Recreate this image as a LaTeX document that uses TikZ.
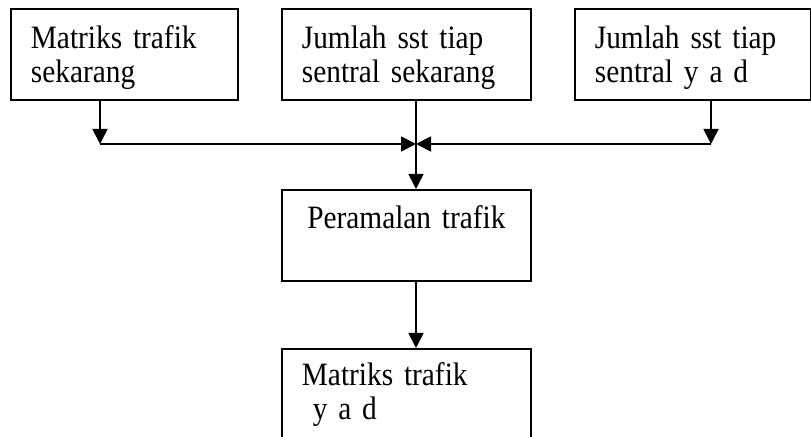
\documentclass[tikz,border=0pt]{standalone}
\usepackage{fontspec}
\setmainfont{Liberation Serif}[FakeStretch=0.9, WordSpace=0.9]
\usetikzlibrary{arrows.meta, positioning}

\begin{document}
\begin{tikzpicture}[
    x=0.5pt, y=-0.5pt,
    kotak/.style={draw, line width=0.9pt, anchor=north west, align=left, inner xsep=10pt, inner ysep=0pt, text height=20pt, text depth=25.5pt, font=\fontsize{16.3}{17}\selectfont},
    arrow/.style={-{Triangle[length=7.5pt, width=7.5pt]}, line width=0.9pt}
]
\useasboundingbox (0,0) rectangle (811,437);

% Input boxes
\node[kotak, text width=93.5pt] (matriks) at (10,8) {Matriks trafik\\ sekarang};
\node[kotak, text width=104.5pt] (jumlah) at (281,8) {Jumlah sst tiap\\ sentral sekarang};
\node[kotak, text width=98pt] (jumlahyad) at (574,8) {Jumlah sst tiap\\ sentral y a d};

% Process and output
\node[kotak, text width=104.5pt, align=center, text height=19.5pt, text depth=26pt] (peramalan) at (281,189) {Peramalan trafik};
\node[kotak, text width=104.5pt, text height=18.5pt, text depth=40pt] (matriksyad) at (281,348) {Matriks trafik\\ \ y a d};

% Junction points
\coordinate (kiri) at (100,144);
\coordinate (kanan) at (711,144);
\coordinate (tengah) at (416,144);

% Arrows
\draw[arrow] (matriks.south -| kiri) -- (kiri);
\draw[arrow] (jumlahyad.south -| kanan) -- (kanan);
\draw[arrow] (kiri) -- (tengah);
\draw[arrow] (kanan) -- (tengah);
\draw[arrow] (jumlah.south -| tengah) -- (peramalan.north -| tengah);
\draw[arrow] (peramalan.south -| tengah) -- (matriksyad.north -| tengah);

\end{tikzpicture}
\end{document}
